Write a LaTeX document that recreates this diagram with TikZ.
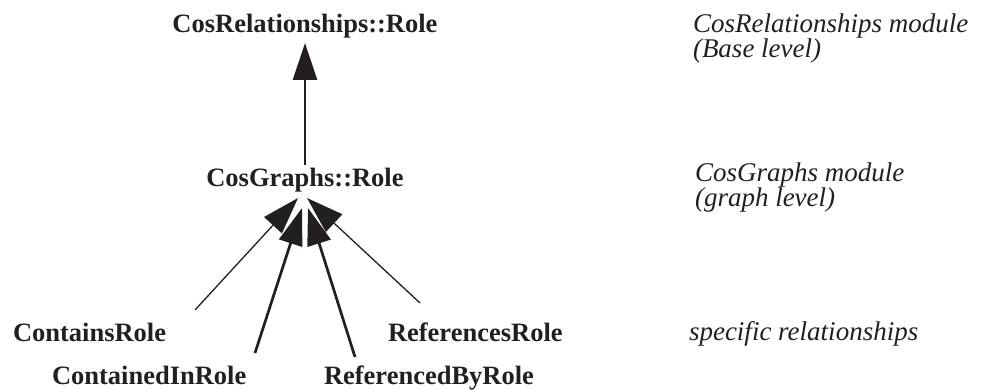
\documentclass[tikz,border=0pt]{standalone}
\usepackage{fontspec}
\setmainfont{Liberation Serif}
\usetikzlibrary{arrows.meta}
\definecolor{ink}{HTML}{231F20}
\begin{document}
\begin{tikzpicture}[x=1pt,y=-1pt,
  every node/.style={inner sep=0pt,outer sep=0pt,text=ink},
  cls/.style={font=\fontsize{26.5}{30}\selectfont\bfseries},
  note/.style={font=\fontsize{27}{25}\selectfont\itshape,align=left,anchor=base west},
  inherit/.style={draw=ink,line width=2.7pt,-{Triangle[length=37pt,width=24pt]}},
  inheritthin/.style={draw=ink,line width=1.3pt,-{Triangle[length=37pt,width=24pt]}},
]
\useasboundingbox (0,0) rectangle (982,390);

% class names
\node[cls,anchor=base] (rel) at (305,33) {CosRelationships::Role};
\node[cls,anchor=base] (gr) at (305,186) {CosGraphs::Role};
\node[cls,anchor=base west] (contains) at (13,341) {ContainsRole};
\node[cls,anchor=base west] (containedin) at (52,384) {ContainedInRole};
\node[cls,anchor=base west] (referencedby) at (324,384) {ReferencedByRole};
\node[cls,anchor=base west] (references) at (388,341) {ReferencesRole};

% level notes (anchored at the baseline of their last line)
\node[note] (nrel) at (693,58) {CosRelationships module\\(Base level)};
\node[note] (ngr) at (695,207) {CosGraphs module\\(graph level)};
\node[note] (nspec) at (689,340) {specific relationships};

% connector ends
\coordinate (grtop) at (305,165);
\coordinate (reltip) at (305,43);
\coordinate (s1) at (195,310);
\coordinate (t1) at (298,198);
\coordinate (s2) at (255,353);
\coordinate (t2) at (302,208);
\coordinate (s3) at (355,357);
\coordinate (t3) at (308,208);
\coordinate (s4) at (420,303);
\coordinate (t4) at (307,198);

% generalisation arrows
\draw[inherit] (grtop) -- (reltip);
\draw[inheritthin] (s1) -- (t1);
\draw[inherit] (s2) -- (t2);
\draw[inherit] (s3) -- (t3);
\draw[inheritthin] (s4) -- (t4);
\end{tikzpicture}
\end{document}
